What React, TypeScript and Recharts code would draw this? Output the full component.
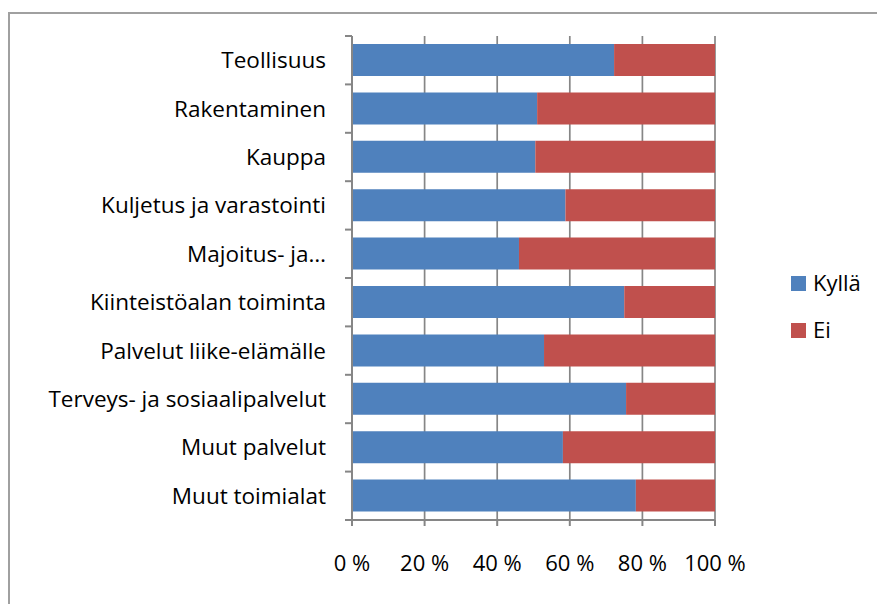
import React from 'react';
import { BarChart, Bar, XAxis, YAxis, CartesianGrid, Legend } from 'recharts';

const categories = [
  'Teollisuus',
  'Rakentaminen',
  'Kauppa',
  'Kuljetus ja varastointi',
  'Majoitus- ja…',
  'Kiinteistöalan toiminta',
  'Palvelut liike-elämälle',
  'Terveys- ja sosiaalipalvelut',
  'Muut palvelut',
  'Muut toimialat',
];
const kylla = [72.2, 51.0, 50.5, 58.8, 46.0, 75.0, 52.9, 75.5, 58.1, 78.2];
const ei = [27.8, 49.0, 49.5, 41.2, 54.0, 25.0, 47.1, 24.5, 41.9, 21.8];
const xTicks = [0, 20, 40, 60, 80, 100];
const seriesNames = ['Kyllä', 'Ei'];
const seriesColors = ['#4F81BD', '#C0504D'];

const data = categories.map((name, i) => ({ name, kylla: kylla[i], ei: ei[i] }));

const FONT = '"Open Sans", Lato, sans-serif';
const AXIS = '#868686';

const YTick = (props: any) => {
  const { x, y, payload, index } = props;
  const off = payload && typeof payload.offset === 'number' && payload.offset > 0 ? payload.offset : 24.2;
  const ax = x + 26;
  return (
    <g>
      <line x1={ax - 7} x2={ax} y1={y - off} y2={y - off} stroke={AXIS} strokeWidth={2} />
      {index === categories.length - 1 && (
        <line x1={ax - 7} x2={ax} y1={y + off} y2={y + off} stroke={AXIS} strokeWidth={2} />
      )}
      <text x={x} y={y} dy={8} textAnchor="end" fill="#000" fontSize={22.5} fontFamily={FONT}>
        {payload.value}
      </text>
    </g>
  );
};

const renderLegend = (props: any) => {
  const payload = props.payload || [];
  const ordered = seriesNames.map((n, i) => {
    const found = payload.find((p: any) => p.value === n);
    return { value: n, color: found ? found.color : seriesColors[i] };
  });
  return (
    <svg width={80} height={100} style={{ display: 'block', overflow: 'visible' }}>
      {ordered.map((p: any, i: number) => (
        <g key={i}>
          <rect x={0} y={16 + i * 47} width={15} height={15} fill={p.color} />
          <text x={22} y={31 + i * 47} fontSize={22} fontFamily={FONT} fill="#000">
            {p.value}
          </text>
        </g>
      ))}
    </svg>
  );
};

export default function App() {
  return (
    <div style={{ position: 'absolute', left: 0, top: 0, width: 877, height: 604, overflow: 'hidden', background: '#fff' }}>
      <div
        style={{
          position: 'absolute',
          left: 8,
          top: 12,
          width: 1000,
          height: 1000,
          borderLeft: '2px solid #a0a0a0',
          borderTop: '2px solid #a0a0a0',
        }}
      />
      <div style={{ position: 'absolute', left: 0, top: 0 }}>
        <BarChart
          width={877}
          height={604}
          data={data}
          layout="vertical"
          margin={{ top: 36, right: 162, bottom: 0, left: 0 }}
        >
          <CartesianGrid horizontal={false} vertical={true} stroke={AXIS} strokeWidth={1.7} />
          <XAxis
            type="number"
            domain={[0, 100]}
            ticks={xTicks}
            interval={0}
            height={84}
            tickFormatter={(v: number) => `${v} %`}
            axisLine={{ stroke: AXIS, strokeWidth: 2 }}
            tickLine={{ stroke: AXIS, strokeWidth: 2 }}
            tickSize={6}
            tickMargin={29}
            tick={{ fill: '#000', fontSize: 22, fontFamily: FONT }}
          />
          <YAxis
            type="category"
            dataKey="name"
            width={352}
            interval={0}
            axisLine={{ stroke: AXIS, strokeWidth: 2 }}
            tickLine={false}
            tickSize={7}
            tickMargin={19}
            tick={<YTick />}
          />
          <Legend
            layout="horizontal"
            verticalAlign="middle"
            align="center"
            content={renderLegend}
            wrapperStyle={{ position: 'absolute', left: 791, top: 260, width: 80, height: 100 }}
          />
          <Bar dataKey="kylla" name={seriesNames[0]} stackId="a" fill={seriesColors[0]} barSize={32} isAnimationActive={false} />
          <Bar dataKey="ei" name={seriesNames[1]} stackId="a" fill={seriesColors[1]} barSize={32} isAnimationActive={false} />
        </BarChart>
      </div>
    </div>
  );
}
